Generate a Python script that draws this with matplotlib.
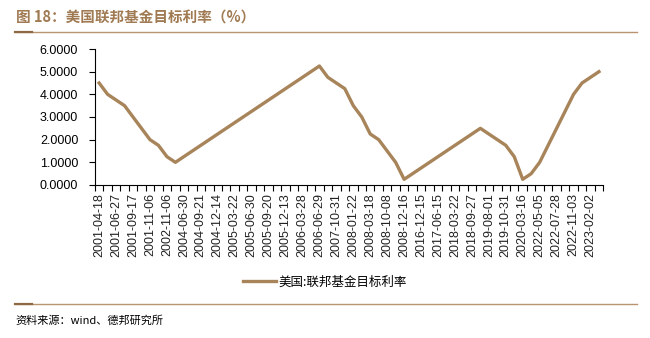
import matplotlib
matplotlib.use("Agg")
import matplotlib.pyplot as plt
import numpy as np

plt.rcParams['font.family'] = ['Liberation Sans', 'Noto Sans CJK SC', 'DejaVu Sans']

# fed funds target rate, one point per FOMC change
dates = ['2001-04-18', '2001-05-15', '2001-06-27', '2001-08-21', '2001-09-17',
         '2001-10-02', '2001-11-06', '2001-12-11', '2002-11-06', '2003-06-25',
         '2004-06-30', '2004-08-10', '2004-09-21', '2004-11-10', '2004-12-14',
         '2005-02-02', '2005-03-22', '2005-05-03', '2005-06-30', '2005-08-09',
         '2005-09-20', '2005-11-01', '2005-12-13', '2006-01-31', '2006-03-28',
         '2006-05-10', '2006-06-29', '2007-09-18', '2007-10-31', '2007-12-11',
         '2008-01-22', '2008-01-30', '2008-03-18', '2008-04-30', '2008-10-08',
         '2008-10-29', '2008-12-16', '2015-12-17', '2016-12-15', '2017-03-16',
         '2017-06-15', '2017-12-14', '2018-03-22', '2018-06-14', '2018-09-27',
         '2018-12-20', '2019-08-01', '2019-09-19', '2019-10-31', '2020-03-04',
         '2020-03-16', '2022-03-17', '2022-05-05', '2022-06-16', '2022-07-28',
         '2022-09-22', '2022-11-03', '2022-12-15', '2023-02-02', '2023-03-23']
rate = [4.50, 4.00, 3.75, 3.50, 3.00,
        2.50, 2.00, 1.75, 1.25, 1.00,
        1.25, 1.50, 1.75, 2.00, 2.25,
        2.50, 2.75, 3.00, 3.25, 3.50,
        3.75, 4.00, 4.25, 4.50, 4.75,
        5.00, 5.25, 4.75, 4.50, 4.25,
        3.50, 3.00, 2.25, 2.00, 1.50,
        1.00, 0.25, 0.50, 0.75, 1.00,
        1.25, 1.50, 1.75, 2.00, 2.25,
        2.50, 2.25, 2.00, 1.75, 1.25,
        0.25, 0.50, 1.00, 1.75, 2.50,
        3.25, 4.00, 4.50, 4.75, 5.00]
series_name = '美国:联邦基金目标利率'
title = '图 18：美国联邦基金目标利率（%）'
source = '资料来源：wind、德邦研究所'

brown = '#a8845a'
title_col = '#a07a52'

fig = plt.figure(figsize=(6.5, 3.38), dpi=100)
ax = fig.add_axes([0.146, 0.4527, 0.782, 0.4023])

x = np.arange(len(rate))
ax.plot(x, rate, color=brown, lw=2.4, solid_joinstyle='round', label=series_name)

ax.set_xlim(-0.5, len(rate) - 0.5)
ax.set_ylim(0, 6)
ax.set_yticks(np.arange(0, 7, 1))
ax.set_yticklabels([f'{v:.4f}' for v in range(7)], fontsize=9)

# labels at every other point, tick marks at category boundaries
ax.set_xticks(x[::2])
ax.set_xticklabels(dates[::2], rotation=90, fontsize=9, color='#222222')
ax.tick_params(axis='x', which='major', length=0, pad=6)
ax.set_xticks(np.arange(-0.5, len(rate)), minor=True)
ax.tick_params(axis='x', which='minor', length=4, width=0.8)
ax.tick_params(axis='y', length=4, width=0.8, pad=8)

for s in ['top', 'right']:
    ax.spines[s].set_visible(False)
for s in ['left', 'bottom']:
    ax.spines[s].set_linewidth(0.8)

leg = fig.legend(loc='center', bbox_to_anchor=(0.5, 0.165), frameon=False,
                 fontsize=9, handlelength=2.6, handletextpad=0.2,
                 prop={'family': ['Noto Sans CJK SC'], 'size': 9})

fig.text(0.024, 0.948, title, fontsize=10.5, fontweight='bold', color=title_col,
         va='center', family=['Noto Sans CJK SC'])
fig.text(0.024, 0.053, source, fontsize=8, color='black', va='center',
         family=['Noto Sans CJK SC', 'Liberation Sans'])

# rules under the title and above the source
for yy in [1 - 32 / 338, 1 - 304 / 338]:
    fig.add_artist(plt.Line2D([0.023, 0.98], [yy, yy], color='#b89470', lw=1.0))
    fig.add_artist(plt.Line2D([0.023, 0.049], [yy, yy], color='#8c6a46', lw=1.6))

fig.savefig('out.png', dpi=100)
